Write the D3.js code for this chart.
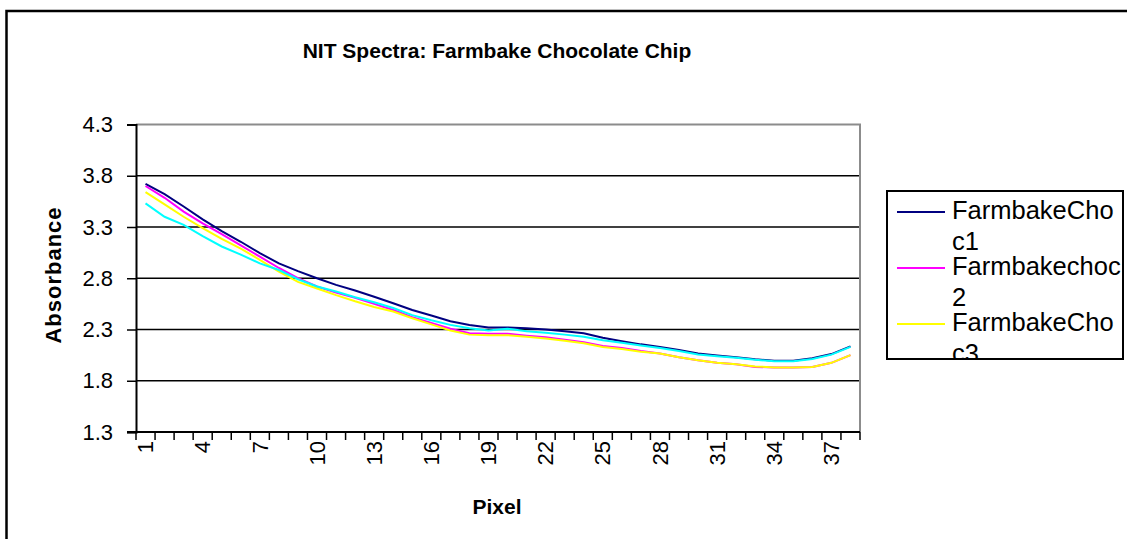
<!DOCTYPE html>
<html>
<head>
<meta charset="utf-8">
<script src="https://cdn.jsdelivr.net/npm/d3@7"></script>
<style>
  html, body { margin: 0; padding: 0; background: #fff; }
  svg { display: block; font-family: "Liberation Sans", Arial, sans-serif; }
</style>
</head>
<body>
<svg id="chart" width="1127" height="539"></svg>
<script>
// ---- data ----
const pixels = d3.range(1, 39);
const seriesNames = ["FarmbakeChoc1", "Farmbakechoc2", "FarmbakeChoc3", "FarmbakeChoc4"];
const seriesColors = ["#000080", "#FF00FF", "#FFFF00", "#00FFFF"];
const choc1 = [3.72, 3.62, 3.50, 3.375, 3.26, 3.156, 3.045, 2.945, 2.87, 2.80,
               2.735, 2.68, 2.62, 2.556, 2.49, 2.436, 2.38, 2.345, 2.32, 2.32,
               2.313, 2.30, 2.284, 2.264, 2.22, 2.186, 2.155, 2.13, 2.10, 2.067,
               2.047, 2.03, 2.01, 1.995, 1.995, 2.02, 2.06, 2.135];
const choc2 = [3.70, 3.585, 3.45, 3.335, 3.23, 3.12, 3.01, 2.90, 2.80, 2.72,
               2.66, 2.61, 2.55, 2.49, 2.42, 2.365, 2.307, 2.264, 2.258, 2.258,
               2.24, 2.225, 2.20, 2.175, 2.14, 2.12, 2.09, 2.065, 2.03, 2.0,
               1.975, 1.96, 1.935, 1.93, 1.93, 1.935, 1.975, 2.05];
const choc3 = [3.64, 3.52, 3.40, 3.29, 3.185, 3.09, 2.98, 2.865, 2.765, 2.70,
               2.635, 2.575, 2.52, 2.475, 2.41, 2.35, 2.29, 2.25, 2.245, 2.245,
               2.23, 2.212, 2.19, 2.165, 2.13, 2.11, 2.083, 2.065, 2.03, 2.0,
               1.975, 1.96, 1.94, 1.93, 1.93, 1.935, 1.975, 2.05];
const choc4 = [3.53, 3.40, 3.32, 3.21, 3.11, 3.03, 2.945, 2.88, 2.79, 2.72,
               2.67, 2.615, 2.566, 2.51, 2.44, 2.39, 2.345, 2.313, 2.29, 2.307,
               2.284, 2.268, 2.25, 2.23, 2.196, 2.17, 2.145, 2.12, 2.09, 2.057,
               2.04, 2.025, 2.005, 1.99, 1.99, 2.012, 2.055, 2.13];
const seriesValues = [choc1, choc2, choc3, choc4];
const yTicks = [1.3, 1.8, 2.3, 2.8, 3.3, 3.8, 4.3];
const xLabelPixels = [1, 4, 7, 10, 13, 16, 19, 22, 25, 28, 31, 34, 37];
const titleText = "NIT Spectra: Farmbake Chocolate Chip";
const xTitle = "Pixel";
const yTitle = "Absorbance";

// ---- layout ----
const svg = d3.select("#chart");
const plot = { left: 136, right: 860, top: 124.5, bottom: 432 };

// outer frame
svg.append("rect").attr("x", 6.5).attr("y", 11).attr("width", 1200).attr("height", 600)
  .attr("fill", "none").attr("stroke", "#000").attr("stroke-width", 2.5);

const x = d3.scaleBand().domain(pixels).range([plot.left, plot.right]).paddingInner(0).paddingOuter(0);
const y = d3.scaleLinear().domain([1.3, 4.3]).range([plot.bottom, plot.top]);

// gridlines
svg.append("g").selectAll("line").data(yTicks.filter(t => t !== 4.3 && t !== 1.3)).join("line")
  .attr("x1", plot.left).attr("x2", plot.right)
  .attr("y1", d => y(d)).attr("y2", d => y(d))
  .attr("stroke", "#000").attr("stroke-width", 1.5);

// plot border (gray top/right)
svg.append("path")
  .attr("d", `M${plot.left},${y(4.3)}H${plot.right}V${plot.bottom}`)
  .attr("fill", "none").attr("stroke", "#8c8c8c").attr("stroke-width", 2);

// y axis
const yAxis = d3.axisLeft(y).tickValues(yTicks).tickFormat(d3.format(".1f")).tickSize(9).tickPadding(14);
const gy = svg.append("g").attr("transform", `translate(${plot.left},0)`).call(yAxis);
gy.select(".domain").attr("stroke", "#000").attr("stroke-width", 2);
gy.selectAll(".tick line").attr("stroke", "#000").attr("stroke-width", 1.5);
gy.selectAll(".tick text").attr("font-size", 22)
  .attr("fill", "#000").attr("font-family", "Liberation Sans, Arial, sans-serif");

// x axis: tick marks on category boundaries
const boundaries = d3.range(0, pixels.length + 1);
const bw = x.bandwidth();
svg.append("g").selectAll("line").data(boundaries).join("line")
  .attr("x1", d => plot.left + d * bw).attr("x2", d => plot.left + d * bw)
  .attr("y1", plot.bottom).attr("y2", plot.bottom + 8)
  .attr("stroke", "#000").attr("stroke-width", 1.5);
svg.append("line").attr("x1", plot.left - 9).attr("x2", plot.right)
  .attr("y1", plot.bottom).attr("y2", plot.bottom)
  .attr("stroke", "#000").attr("stroke-width", 2);

// x labels
svg.append("g").selectAll("text").data(xLabelPixels).join("text")
  .attr("transform", d => `translate(${x(d) + bw / 2},${plot.bottom + 9}) rotate(-90)`)
  .attr("text-anchor", "end").attr("dy", "0.35em")
  .attr("font-size", 22).attr("fill", "#000")
  .text(d => d);

// series lines
const line = d3.line().x((d, i) => x(pixels[i]) + bw / 2).y(d => y(d));
svg.append("g").selectAll("path").data(seriesValues).join("path")
  .attr("d", d => line(d)).attr("fill", "none")
  .attr("stroke", (d, i) => seriesColors[i]).attr("stroke-width", 2);

// titles
svg.append("text").attr("x", 497).attr("y", 58).attr("text-anchor", "middle")
  .attr("font-size", 21).attr("font-weight", "bold").text(titleText);
svg.append("text").attr("x", 497).attr("y", 514).attr("text-anchor", "middle")
  .attr("font-size", 21).attr("font-weight", "bold").text(xTitle);
svg.append("text").attr("transform", "translate(61,275) rotate(-90)").attr("text-anchor", "middle")
  .attr("font-size", 22).attr("font-weight", "bold").attr("letter-spacing", 1).text(yTitle);

// legend (box too small: only the entries whose key fits are shown, text clipped)
const lg = { x: 887, y: 191, w: 236, h: 168 };
const entryStep = 56, firstEntryY = 212;
const visibleEntries = seriesNames.map((n, i) => i)
  .filter(i => firstEntryY + i * entryStep < lg.y + lg.h);
const defs = svg.append("defs");
defs.append("clipPath").attr("id", "legclip").append("rect")
  .attr("x", lg.x).attr("y", lg.y).attr("width", lg.w).attr("height", lg.h);
svg.append("rect").attr("x", lg.x).attr("y", lg.y).attr("width", lg.w).attr("height", lg.h)
  .attr("fill", "#fff").attr("stroke", "#000").attr("stroke-width", 2);
const legG = svg.append("g").attr("clip-path", "url(#legclip)");
const entries = legG.selectAll("g").data(visibleEntries).join("g")
  .attr("transform", i => `translate(0,${firstEntryY + i * entryStep})`);
entries.append("line").attr("x1", 897).attr("x2", 945).attr("y1", 0).attr("y2", 0)
  .attr("stroke", i => seriesColors[i]).attr("stroke-width", 2);
entries.each(function(i) {
  const name = seriesNames[i];
  const g = d3.select(this);
  const t = g.append("text").attr("x", 952).attr("y", 7).attr("font-size", 25.5).attr("fill", "#000");
  let head = name, tail = "";
  // split so the first line fits within the legend width
  for (let k = name.length; k > 0; k--) {
    t.text(name.slice(0, k));
    if (t.node().getComputedTextLength() <= 170) { head = name.slice(0, k); tail = name.slice(k); break; }
  }
  t.text(null);
  t.append("tspan").attr("x", 952).attr("dy", 0).text(head);
  if (tail) t.append("tspan").attr("x", 952).attr("dy", 31).text(tail);
});
// redraw legend border above clipped contents
svg.append("rect").attr("x", lg.x).attr("y", lg.y).attr("width", lg.w).attr("height", lg.h)
  .attr("fill", "none").attr("stroke", "#000").attr("stroke-width", 2);
</script>
</body>
</html>
